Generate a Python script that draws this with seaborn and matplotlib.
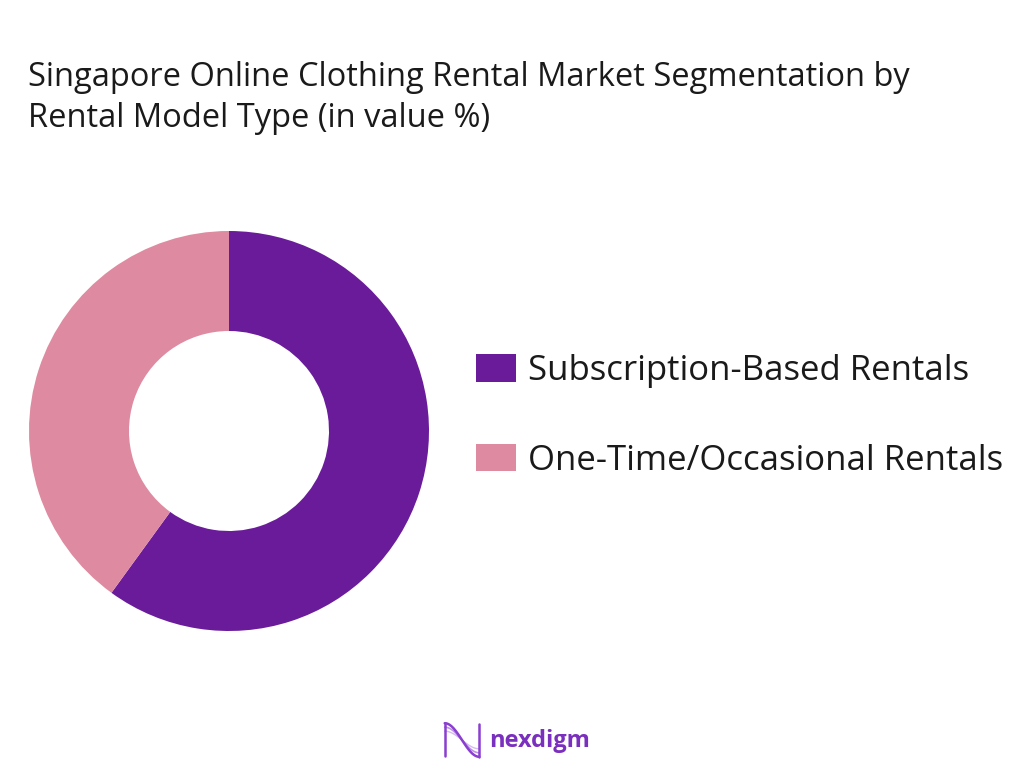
import numpy as np
import matplotlib
matplotlib.use("Agg")
import matplotlib.pyplot as plt
import seaborn as sns
from matplotlib.patches import Patch

sns.set_theme(style="white")
plt.rcParams['font.family'] = ['Open Sans', 'DejaVu Sans']

categories = ["Subscription-Based Rentals", "One-Time/Occasional Rentals"]
values = [60, 40]
colors = ["#6A1B9A", "#DE8AA0"]
title = "Singapore Online Clothing Rental Market Segmentation by\nRental Model Type (in value %)"

fig = plt.figure(figsize=(10.24, 7.68), dpi=100)
fig.patch.set_facecolor("white")

ax = fig.add_axes([229/1024 - 200/1024, 1 - (431 + 200)/768, 400/1024, 400/768])
wedges, _ = ax.pie(values, colors=colors, startangle=90, counterclock=False,
                   wedgeprops=dict(width=0.5, edgecolor="none"), radius=1)
ax.set_xlim(-1, 1)
ax.set_ylim(-1, 1)
ax.set_aspect("equal")
ax.axis("off")

fig.text(28/1024, 1 - 61/768, title, ha="left", va="top", fontsize=23.5,
         color="#1a1a1a", linespacing=1.32)

handles = [Patch(facecolor=c, edgecolor="none") for c in colors]
leg = fig.legend(handles, categories, loc="center left",
                 bbox_to_anchor=(445/1024, 1 - 416/768), frameon=False,
                 fontsize=25, handlelength=1.15, handleheight=0.84,
                 labelspacing=1.6, handletextpad=0.35)
for t in leg.get_texts():
    t.set_color("#1a1a1a")

# logo
lax = fig.add_axes([443/1024, 1 - 760/768, 38/1024, 40/768])
xs = np.linspace(0, 1, 100)
for amp, a, lw in [(0.42, 1.0, 1.8), (0.32, 0.55, 1.2), (0.22, 0.35, 1.0)]:
    lax.plot(xs, 0.5 - amp*np.cos(np.pi*xs)*-1, color="#8A3FD0", lw=lw, alpha=a)
lax.plot([0.02, 0.02], [0.1, 0.92], color="#8A3FD0", lw=1.8)
lax.plot([0.98, 0.98], [0.08, 0.9], color="#8A3FD0", lw=1.8)
lax.set_xlim(-0.05, 1.05)
lax.set_ylim(0, 1)
lax.axis("off")
fig.text(489/1024, 1 - 741/768, "nexdigm", ha="left", va="center", fontsize=17,
         fontweight="bold", color="#7B2FBE")

fig.savefig("out.png", dpi=100, facecolor="white")
